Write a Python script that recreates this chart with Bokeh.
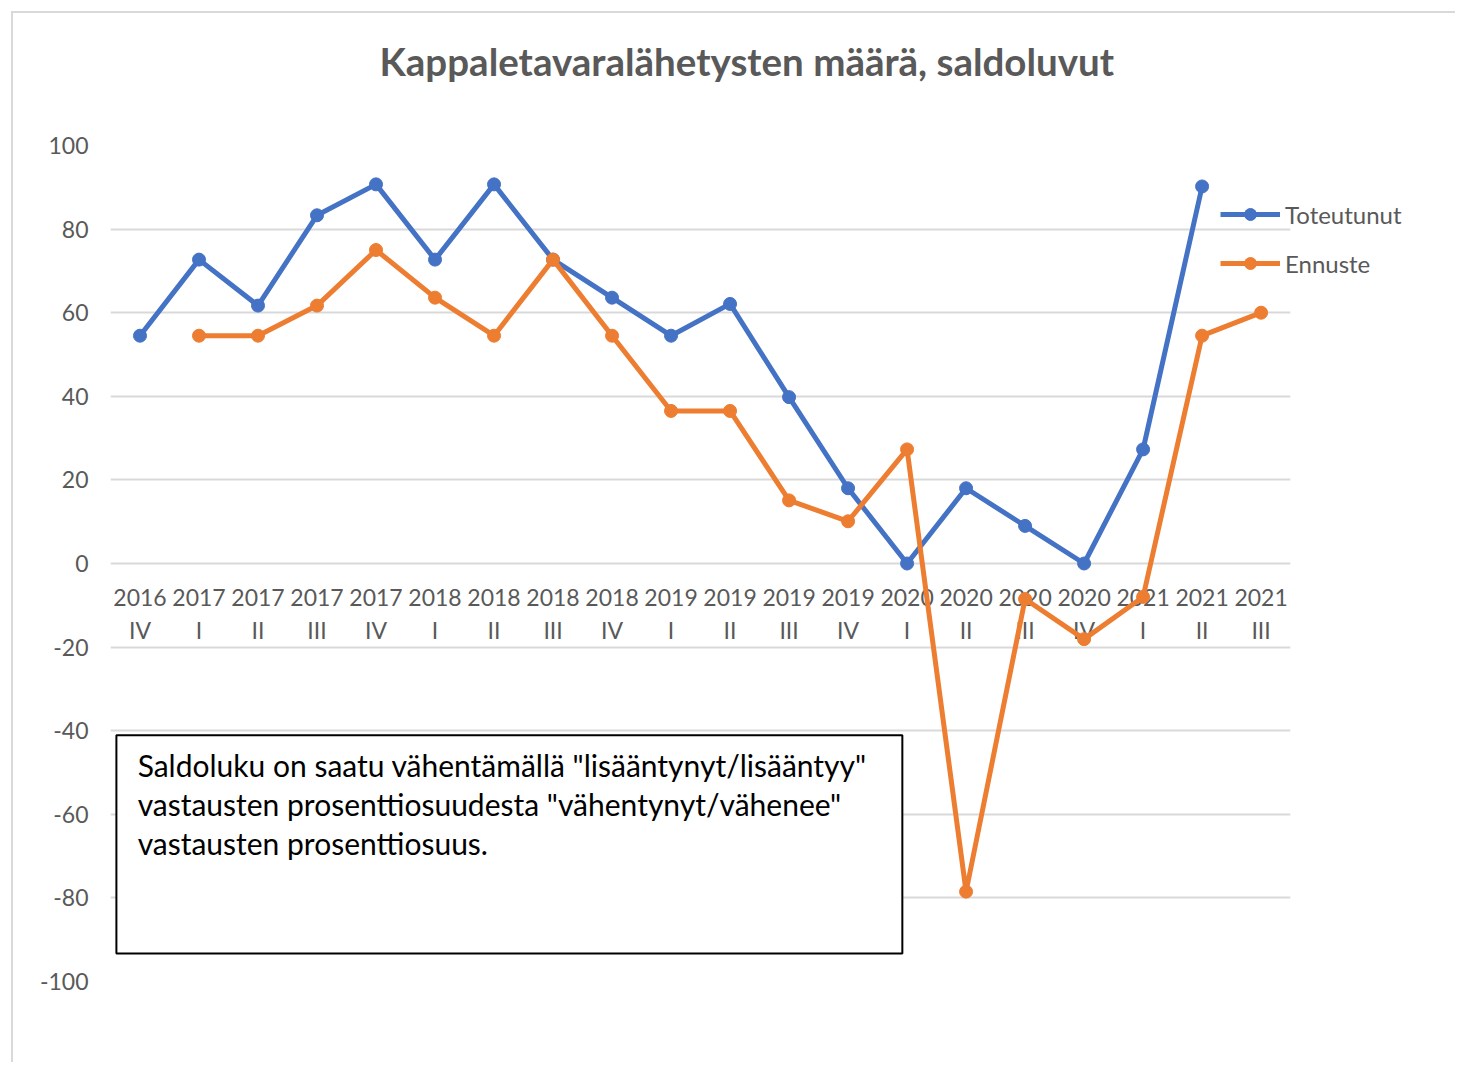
from bokeh.plotting import figure
from bokeh.models import (ColumnDataSource, Legend, LegendItem, LinearAxis,
                          BoxAnnotation, Label, FixedTicker)
from bokeh.embed import file_html
from bokeh.resources import INLINE

# ---- data ----
years = ["2016", "2017", "2017", "2017", "2017", "2018", "2018", "2018", "2018",
         "2019", "2019", "2019", "2019", "2020", "2020", "2020", "2020",
         "2021", "2021", "2021"]
quarters = ["IV", "I", "II", "III", "IV", "I", "II", "III", "IV",
            "I", "II", "III", "IV", "I", "II", "III", "IV",
            "I", "II", "III"]
nan = float("nan")
toteutunut = [54.5, 72.7, 61.7, 83.3, 90.7, 72.7, 90.7, 72.7, 63.6, 54.5,
              62.1, 39.8, 18.0, 0.0, 18.0, 9.0, 0.0, 27.3, 90.2, nan]
ennuste = [nan, 54.5, 54.5, 61.7, 75.0, 63.6, 54.5, 72.7, 54.5, 36.5,
           36.5, 15.1, 10.1, 27.3, -78.5, -8.5, -18.1, -8.0, 54.5, 60.0]

title_text = "Kappaletavaralähetysten määrä, saldoluvut"
note_text = ('Saldoluku on saatu vähentämällä "lisääntynyt/lisääntyy"\n'
             'vastausten prosenttiosuudesta "vähentynyt/vähenee"\n'
             'vastausten prosenttiosuus.')
y_ticks = list(range(-100, 101, 20))

BLUE = "#4472C4"
ORANGE = "#ED7D31"
GREY_TXT = "#595959"
GRID = "#D9D9D9"

pos = list(range(len(years)))          # category slots 0..19
n = len(pos)
src = ColumnDataSource(dict(x=pos, tot=toteutunut, enn=ennuste))

TOP_SHIFT = 30  # canvas starts above the window top to leave room for the title

p = figure(x_range=(-0.5, 22.21), y_range=(-100, 100),
           width=1455, height=1062 + TOP_SHIFT,
           min_border_left=110, min_border_right=5,
           min_border_top=145 + TOP_SHIFT, min_border_bottom=81,
           output_backend="svg", toolbar_location=None,
           title=title_text, x_axis_location=None)
p.margin = (-TOP_SHIFT, 0, 0, 0)
line_y = 11 + TOP_SHIFT
p.styles = {
    "background": (f"linear-gradient({GRID},{GRID}) 11px {line_y}px / 2px 100% no-repeat, "
                   f"linear-gradient({GRID},{GRID}) 11px {line_y}px / 100% 2px no-repeat, "
                   "#ffffff"),
}

p.outline_line_color = None
p.background_fill_color = "white"
p.border_fill_alpha = 0

# title
p.title.text_font = "Lato"
p.title.text_font_size = "38.5px"
p.title.text_font_style = "bold"
p.title.text_color = GREY_TXT
p.title.align = "left"
p.title.offset = 269
p.title.standoff = 123

# y axis + grid
p.yaxis.ticker = FixedTicker(ticks=y_ticks)
p.yaxis.major_label_overrides = {t: str(t) for t in y_ticks}
p.yaxis.axis_line_color = None
p.yaxis.major_tick_line_color = None
p.yaxis.minor_tick_line_color = None
p.yaxis.major_tick_out = 0
p.yaxis.major_tick_in = 0
p.yaxis.major_label_standoff = 22
p.yaxis.major_label_text_font = "Lato"
p.yaxis.major_label_text_font_size = "23px"
p.yaxis.major_label_text_color = GREY_TXT

p.xgrid.grid_line_color = None
p.ygrid.grid_line_color = GRID
p.ygrid.grid_line_width = 2
try:
    for g in p.ygrid:
        g.cross_bounds = (-0.5, n - 0.5)
except Exception:
    pass
mask = BoxAnnotation(left=n - 0.5, fill_color="white", fill_alpha=1.0,
                     line_color=None, level="underlay")
p.add_layout(mask)

# category axes pinned at y = 0 (year row and quarter row)
def cat_axis(labels, standoff):
    ax = LinearAxis(ticker=FixedTicker(ticks=pos),
                    major_label_overrides={i: s for i, s in zip(pos, labels)})
    ax.fixed_location = 0
    ax.axis_line_color = None
    ax.major_tick_line_color = None
    ax.minor_tick_line_color = None
    ax.major_tick_out = 0
    ax.major_tick_in = 0
    ax.major_label_standoff = standoff
    ax.major_label_text_font = "Lato"
    ax.major_label_text_font_size = "23px"
    ax.major_label_text_color = GREY_TXT
    ax.level = "underlay"
    p.add_layout(ax, "below")
    return ax

cat_axis(years, 25)
cat_axis(quarters, 52)

# series
l1 = p.line("x", "tot", source=src, line_color=BLUE, line_width=5, line_join="round")
s1 = p.scatter("x", "tot", source=src, size=13, fill_color=BLUE, line_color=BLUE)
l2 = p.line("x", "enn", source=src, line_color=ORANGE, line_width=5, line_join="round")
s2 = p.scatter("x", "enn", source=src, size=13, fill_color=ORANGE, line_color=ORANGE)

legend = Legend(items=[LegendItem(label="Toteutunut", renderers=[l1, s1]),
                       LegendItem(label="Ennuste", renderers=[l2, s2])],
                location=(1110, 703))
legend.glyph_width = 60
legend.glyph_height = 30
legend.label_height = 30
legend.spacing = 19
legend.padding = 0
legend.margin = 0
legend.label_standoff = 5
legend.border_line_color = None
legend.background_fill_alpha = 0
legend.label_text_font = "Lato"
legend.label_text_font_size = "24px"
legend.label_text_color = GREY_TXT
p.add_layout(legend, "center")

# note box
box = BoxAnnotation(left=-0.4, right=12.92, top=-41.1, bottom=-93.3,
                    fill_color="white", fill_alpha=1.0,
                    line_color="black", line_alpha=1.0, line_width=2)
p.add_layout(box)
note = Label(x=-0.04, y=-43.9, text=note_text, text_align="left",
             text_baseline="top", text_font="Lato", text_font_size="30px",
             text_color="black", text_line_height=1.08)
p.add_layout(note)

open("out.html", "w").write(file_html(p, INLINE))
